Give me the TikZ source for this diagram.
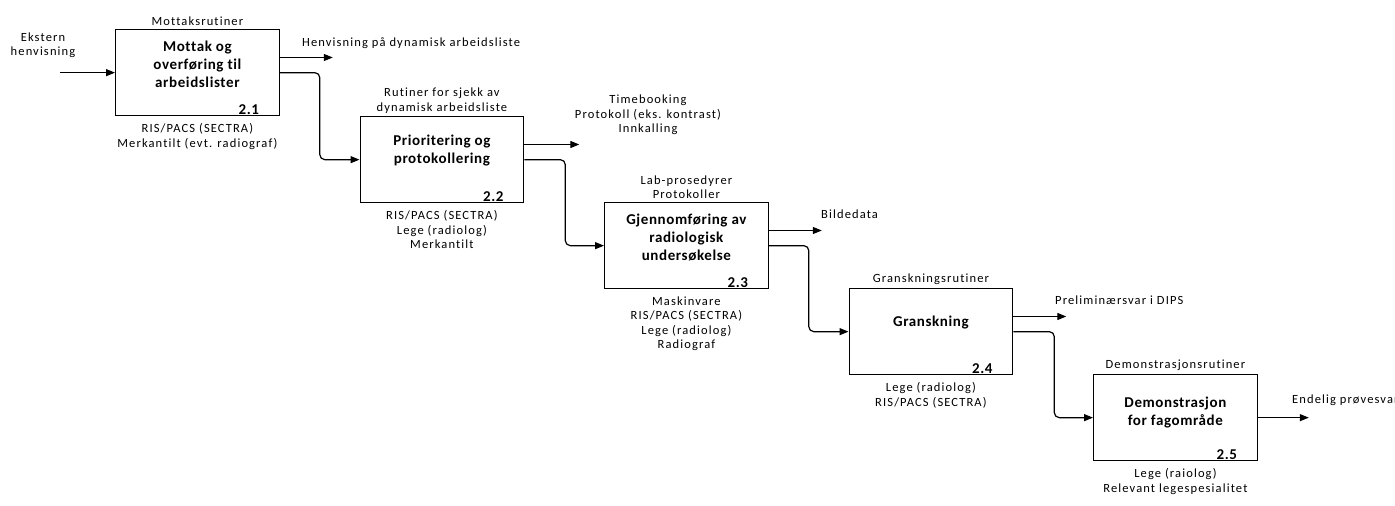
\documentclass[tikz,border=0pt]{standalone}
\usepackage{fontspec}
\setmainfont{Carlito}[Ligatures=NoCommon,LetterSpace=9,BoldFeatures={LetterSpace=4}]
\usetikzlibrary{arrows.meta,calc}
\begin{document}
\begin{tikzpicture}[x=1pt,y=-1pt,
  proc/.style={draw,line width=1.3pt,minimum width=163.5pt,minimum height=86pt,inner sep=0pt,anchor=north west},
  ttl/.style={font=\fontsize{15}{18}\selectfont\bfseries,align=center,inner sep=0pt},
  num/.style={font=\fontsize{15}{18}\selectfont\bfseries,inner sep=0pt,anchor=base east},
  lbl/.style={font=\fontsize{12.5}{14.5}\selectfont,align=center,inner sep=0pt},
  flow/.style={line width=1.2pt,-{Triangle[length=9pt,width=7pt]}},
  route/.style={flow,rounded corners=5pt}]
\useasboundingbox (0,0) rectangle (1395,506);
\fill[white] (0,0) rectangle (1395,506);

% activity boxes
\node[proc] (b1) at (115,29) {};
\node[proc] (b2) at (359.5,116) {};
\node[proc] (b3) at (604,202) {};
\node[proc] (b4) at (848.5,288) {};
\node[proc] (b5) at (1093,374) {};

% box titles
\node[ttl] (t1) at ([yshift=-35.5pt]b1.north) {Mottak og\\overføring til\\arbeidslister};
\node[ttl] (t2) at ([yshift=-35pt]b2.north) {Prioritering og\\protokollering};
\node[ttl] (t3) at ([yshift=-35.5pt]b3.north) {Gjennomføring av\\radiologisk\\undersøkelse};
\node[ttl] (t4) at ([yshift=-35pt]b4.north) {Granskning};
\node[ttl] (t5) at ([yshift=-38.5pt]b5.north) {Demonstrasjon\\for fagområde};

% box numbers
\node[num] (n1) at ([xshift=-20.5pt,yshift=2pt]b1.south east) {2.1};
\node[num] (n2) at ([xshift=-20.5pt,yshift=2pt]b2.south east) {2.2};
\node[num] (n3) at ([xshift=-20.5pt,yshift=2pt]b3.south east) {2.3};
\node[num] (n4) at ([xshift=-20.5pt,yshift=2pt]b4.south east) {2.4};
\node[num] (n5) at ([xshift=-20.5pt,yshift=2pt]b5.south east) {2.5};

% controls (above)
\node[lbl,anchor=south] (c1) at ([yshift=3pt]b1.north) {Mottaksrutiner};
\node[lbl,anchor=south] (c2) at ([yshift=2.5pt]b2.north) {Rutiner for sjekk av\\dynamisk arbeidsliste};
\node[lbl,anchor=south] (c3) at ([yshift=3pt]b3.north) {Lab-prosedyrer\\Protokoller};
\node[lbl,anchor=south] (c4) at ([yshift=3pt]b4.north) {Granskningsrutiner};
\node[lbl,anchor=south] (c5) at ([yshift=3pt]b5.north) {Demonstrasjonsrutiner};

% mechanisms (below)
\node[lbl,anchor=north] (m1) at ([yshift=-7pt]b1.south) {RIS/PACS (SECTRA)\\Merkantilt (evt. radiograf)};
\node[lbl,anchor=north] (m2) at ([yshift=-7pt]b2.south) {RIS/PACS (SECTRA)\\Lege (radiolog)\\Merkantilt};
\node[lbl,anchor=north] (m3) at ([yshift=-7pt]b3.south) {Maskinvare\\RIS/PACS (SECTRA)\\Lege (radiolog)\\Radiograf};
\node[lbl,anchor=north] (m4) at ([yshift=-7pt]b4.south) {Lege (radiolog)\\RIS/PACS (SECTRA)};
\node[lbl,anchor=north] (m5) at ([yshift=-7pt]b5.south) {Lege (raiolog)\\Relevant legespesialitet};

% input and outputs
\node[lbl] (inlbl) at (43,45) {Ekstern\\henvisning};
\node[lbl,anchor=west] (out1) at (302,43.5) {Henvisning på dynamisk arbeidsliste};
\node[lbl] (out2) at (648,115) {Timebooking\\Protokoll (eks. kontrast)\\Innkalling};
\node[lbl,anchor=west] (out3) at (821,214) {Bildedata};
\node[lbl,anchor=west] (out4) at (1055,300.5) {Preliminærsvar i DIPS};
\node[lbl,anchor=west] (out5) at (1292,400) {Endelig prøvesvar};

% connector end points
\coordinate (src) at ($(b1.west)+(-55,0)$);
\coordinate (s1) at ($(b1.north east)+(0,28.5)$);
\coordinate (e1) at ($(s1)+(53,0)$);
\coordinate (s2) at ($(b2.north east)+(0,28.5)$);
\coordinate (e2) at ($(s2)+(55,0)$);
\coordinate (s3) at ($(b3.north east)+(0,28.5)$);
\coordinate (e3) at ($(s3)+(53,0)$);
\coordinate (s4) at ($(b4.north east)+(0,28.5)$);
\coordinate (e4) at ($(s4)+(53,0)$);
\coordinate (e5) at ($(b5.east)+(51,0)$);

% connectors
\draw[flow] (src) -- (b1.west);
\draw[flow] (s1) -- (e1);
\draw[flow] (s2) -- (e2);
\draw[flow] (s3) -- (e3);
\draw[flow] (s4) -- (e4);
\draw[flow] (b5.east) -- (e5);
\draw[route] (b1.east) -- ++(40,0) |- (b2.west);
\draw[route] (b2.east) -- ++(41,0) |- (b3.west);
\draw[route] (b3.east) -- ++(40,0) |- (b4.west);
\draw[route] (b4.east) -- ++(41,0) |- (b5.west);
\end{tikzpicture}
\end{document}
